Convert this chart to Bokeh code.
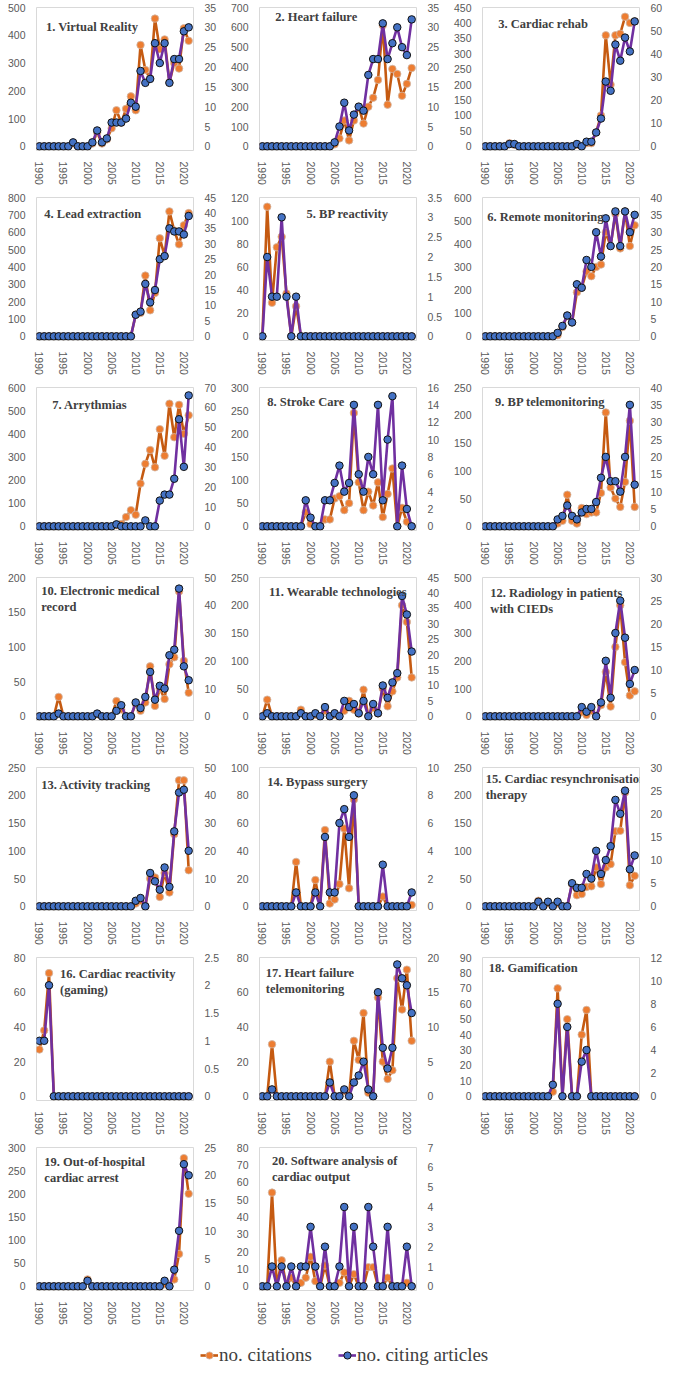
import math
from bokeh.plotting import figure
from bokeh.models import Range1d, LinearAxis, FixedTicker, Label, Legend, LegendItem, ColumnDataSource
from bokeh.layouts import gridplot, column
from bokeh.embed import file_html
from bokeh.resources import INLINE

years = list(range(1990, 2022))
x_ticks = [1990, 1995, 2000, 2005, 2010, 2015, 2020]

titles = [
    "1. Virtual Reality", "2. Heart failure", "3. Cardiac rehab",
    "4. Lead extraction", "5. BP reactivity", "6. Remote monitoring",
    "7. Arrythmias", "8. Stroke Care", "9. BP telemonitoring",
    "10. Electronic medical\nrecord", "11. Wearable technologies", "12. Radiology in patients\nwith CIEDs",
    "13. Activity tracking", "14. Bypass surgery", "15. Cardiac resynchronisation\ntherapy",
    "16. Cardiac reactivity\n(gaming)", "17. Heart failure\ntelemonitoring", "18. Gamification",
    "19. Out-of-hospital\ncardiac arrest", "20. Software analysis of\ncardiac output",
]

# left axis (no. citations) max / step, right axis (no. citing articles) max / step
left_max = [500, 700, 450, 800, 120, 600, 600, 300, 250, 200, 250, 500, 250, 100, 250, 80, 80, 90, 300, 80]
left_step = [100, 100, 50, 100, 20, 100, 100, 50, 50, 50, 50, 100, 50, 20, 50, 20, 20, 10, 50, 10]
right_max = [35, 35, 60, 45, 3.5, 40, 70, 16, 40, 50, 45, 30, 50, 10, 30, 2.5, 20, 12, 25, 7]
right_step = [5, 5, 10, 5, 0.5, 5, 10, 2, 5, 10, 5, 5, 10, 2, 5, 0.5, 5, 2, 5, 1]

Z7 = [0] * 7
citations = [
    # 1 Virtual Reality
    Z7 + [10, 0, 0, 0, 10, 50, 10, 25, 65, 130, 85, 135, 180, 130, 365, 275, 245, 460, 350, 385, 230, 300, 280, 425, 380],
    # 2 Heart failure
    [0] * 15 + [10, 40, 130, 30, 130, 200, 115, 200, 245, 335, 610, 210, 390, 365, 255, 315, 395],
    # 3 Cardiac rehab
    [0] * 5 + [10, 5] + [0] * 12 + [5, 0, 10, 10, 45, 100, 360, 200, 360, 365, 420, 400, 405],
    # 4 Lead extraction
    [0] * 20 + [125, 135, 350, 150, 250, 565, 465, 720, 610, 530, 640, 710],
    # 5 BP reactivity
    [0, 112, 29, 77, 86, 37, 0, 26] + [0] * 24,
    # 6 Remote monitoring
    [0] * 15 + [5, 40, 90, 60, 190, 210, 280, 260, 300, 310, 450, 390, 530, 380, 540, 390, 480],
    # 7 Arrythmias
    [0] * 16 + [5, 10, 40, 70, 50, 185, 270, 330, 255, 420, 305, 530, 385, 525, 400, 480],
    # 8 Stroke Care
    [0] * 9 + [30, 5, 0, 0, 15, 15, 60, 65, 35, 50, 245, 95, 35, 75, 45, 95, 20, 70, 125, 0, 40, 10, 0],
    # 9 BP telemonitoring
    [0] * 15 + [5, 10, 57, 10, 5, 33, 22, 25, 25, 60, 205, 70, 50, 35, 80, 190, 35],
    # 10 Electronic medical record
    [0, 0, 0, 0, 28, 0, 0, 0, 0, 0, 0, 0, 3, 0, 0, 0, 22, 10, 0, 0, 18, 8, 20, 72, 15, 40, 25, 75, 85, 180, 80, 34],
    # 11 Wearable technologies
    [0, 30, 0, 0, 0, 0, 0, 0, 12, 0, 0, 3, 0, 10, 0, 3, 0, 10, 28, 12, 5, 48, 0, 15, 5, 50, 18, 45, 70, 200, 170, 70],
    # 12 Radiology in patients with CIEDs
    [0] * 20 + [15, 5, 20, 0, 40, 160, 35, 250, 400, 195, 75, 90],
    # 13 Activity tracking
    [0] * 20 + [5, 10, 0, 50, 52, 17, 60, 25, 130, 227, 227, 65],
    # 14 Bypass surgery
    Z7 + [32, 0, 0, 0, 19, 0, 55, 2, 5, 16, 56, 13, 77, 0, 0, 0, 0, 0, 7, 0, 0, 0, 0, 0, 1],
    # 15 Cardiac resynchronisation therapy
    [0] * 11 + [10, 0, 5, 0, 5, 0, 0, 40, 20, 22, 35, 36, 70, 40, 70, 76, 135, 136, 205, 38, 55],
    # 16 Cardiac reactivity (gaming)
    [27, 38, 71] + [0] * 29,
    # 17 Heart failure telemonitoring
    [0, 0, 30] + [0] * 11 + [20, 0, 0, 3, 0, 32, 21, 48, 2, 0, 57, 20, 10, 15, 68, 50, 73, 32],
    # 18 Gamification
    [0] * 14 + [3, 70, 0, 50, 0, 0, 40, 56] + [0] * 10,
    # 19 Out-of-hospital cardiac arrest
    [0] * 10 + [15] + [0] * 15 + [5, 0, 15, 70, 277, 200],
    # 20 Software analysis of cardiac output
    [0, 0, 54, 0, 15, 0, 5, 0, 2, 5, 17, 3, 0, 12, 0, 0, 2, 8, 0, 7, 0, 0, 11, 11, 0, 0, 5, 0, 0, 0, 2, 0],
]

citing_articles = [
    Z7 + [1, 0, 0, 0, 1, 4, 1, 2, 6, 6, 6, 7, 11, 10, 19, 16, 17, 26, 21, 26, 16, 22, 22, 29, 30],
    [0] * 15 + [1, 5, 11, 4, 8, 10, 9, 18, 22, 22, 31, 22, 26, 30, 25, 23, 32],
    [0] * 5 + [1, 1] + [0] * 12 + [1, 0, 2, 2, 6, 12, 28, 24, 44, 37, 47, 41, 54],
    [0] * 20 + [7, 8, 17, 11, 15, 25, 26, 35, 34, 34, 33, 39],
    [0, 2, 1, 1, 3, 1, 0, 1] + [0] * 24,
    [0] * 15 + [1, 3, 6, 4, 15, 14, 22, 20, 30, 23, 34, 26, 36, 26, 36, 30, 35],
    [0] * 16 + [1, 0, 0, 0, 0, 0, 3, 0, 0, 13, 16, 16, 24, 54, 30, 66],
    [0] * 9 + [3, 1, 0, 0, 3, 3, 5, 7, 4, 5, 14, 6, 4, 8, 6, 14, 3, 10, 15, 0, 7, 2, 0],
    [0] * 15 + [2, 3, 6, 3, 2, 4, 5, 5, 7, 14, 20, 13, 13, 10, 20, 35, 12],
    [0, 0, 0, 0, 1, 0, 0, 0, 0, 0, 0, 0, 1, 0, 0, 0, 2, 4, 0, 0, 5, 3, 7, 16, 6, 11, 10, 22, 24, 46, 18, 13],
    [0, 1, 0, 0, 0, 0, 0, 0, 1, 0, 0, 1, 0, 3, 0, 1, 0, 5, 3, 4, 1, 5, 0, 4, 1, 10, 6, 11, 14, 39, 33, 21],
    [0] * 20 + [2, 1, 2, 0, 3, 12, 4, 18, 25, 17, 7, 10],
    [0] * 20 + [2, 3, 0, 12, 9, 6, 14, 7, 27, 41, 42, 20],
    Z7 + [1, 0, 0, 0, 1, 0, 5, 1, 1, 6, 7, 5, 8, 0, 0, 0, 0, 0, 3, 0, 0, 0, 0, 0, 1],
    [0] * 11 + [1, 0, 1, 0, 1, 0, 0, 5, 4, 4, 7, 6, 12, 7, 10, 13, 23, 20, 25, 8, 11],
    [1, 1, 2] + [0] * 29,
    [0, 0, 1] + [0] * 11 + [2, 0, 0, 1, 0, 2, 3, 5, 1, 0, 15, 7, 4, 7, 19, 17, 16, 12],
    [0] * 14 + [1, 8, 0, 6, 0, 0, 3, 4] + [0] * 10,
    [0] * 10 + [1] + [0] * 15 + [1, 0, 3, 10, 22, 20],
    [0, 0, 1, 0, 1, 0, 1, 0, 1, 1, 3, 1, 0, 2, 0, 0, 1, 4, 0, 3, 0, 0, 4, 2, 0, 0, 3, 0, 0, 0, 2, 0],
]

# title placement inside the frame (fraction of width from left, fraction of height from top)
title_pos = [
    (0.06, 0.085), (0.10, 0.015), (0.10, 0.065),
    (0.05, 0.065), (0.30, 0.065), (0.03, 0.085),
    (0.10, 0.07), (0.05, 0.055), (0.08, 0.055),
    (0.03, 0.045), (0.06, 0.055), (0.05, 0.06),
    (0.03, 0.075), (0.05, 0.055), (0.02, 0.03),
    (0.15, 0.065), (0.04, 0.06), (0.04, 0.025),
    (0.05, 0.055), (0.08, 0.045),
]

ORANGE_LINE = "#c55a11"
ORANGE_FILL = "#ed7d31"
ORANGE_EDGE = "#d0b8a8"
PURPLE_LINE = "#7030a0"
BLUE_FILL = "#4472c4"
BLUE_EDGE = "#111111"
TICK_COLOR = "#595959"
TICK_FONT = "Liberation Sans"
MARKER = 7.5


def fmt(v):
    return ("%g" % v)


def ticks(mx, step):
    n = int(round(mx / step))
    return [round(k * step, 6) for k in range(n + 1)]


X0, X1 = 1989.4, 2022.0
PAD = 0.03


def make_panel(i):
    lmax, rmax = left_max[i], right_max[i]
    p = figure(width=223, height=190, output_backend="svg", toolbar_location=None,
               x_range=Range1d(X0, X1), y_range=Range1d(-PAD * lmax, lmax),
               min_border_left=36, min_border_right=30, min_border_top=7, min_border_bottom=40)
    p.extra_y_ranges = {"r": Range1d(-PAD * rmax, rmax)}
    p.add_layout(LinearAxis(y_range_name="r"), "right")

    lt = ticks(lmax, left_step[i])
    rt = ticks(rmax, right_step[i])
    p.yaxis[0].ticker = FixedTicker(ticks=lt)
    p.yaxis[0].major_label_overrides = {t: fmt(t) for t in lt}
    p.yaxis[1].ticker = FixedTicker(ticks=rt)
    p.yaxis[1].major_label_overrides = {t: fmt(t) for t in rt}
    p.xaxis.ticker = FixedTicker(ticks=x_ticks)
    p.xaxis.major_label_orientation = -math.pi / 2

    for ax in list(p.xaxis) + list(p.yaxis):
        ax.axis_line_color = None
        ax.major_tick_line_color = None
        ax.minor_tick_line_color = None
        ax.major_label_text_font = TICK_FONT
        ax.major_label_text_font_size = "10.5px"
        ax.major_label_text_color = TICK_COLOR
        ax.major_label_standoff = 5

    p.grid.visible = False
    p.outline_line_color = "#d9d9d9"
    p.outline_line_width = 1

    src = ColumnDataSource(dict(year=years, cit=citations[i], art=citing_articles[i]))
    p.line("year", "cit", source=src, line_color=ORANGE_LINE, line_width=2.6)
    p.scatter("year", "cit", source=src, size=MARKER, fill_color=ORANGE_FILL,
              line_color=ORANGE_EDGE, line_width=0.8)
    p.line("year", "art", source=src, y_range_name="r", line_color=PURPLE_LINE, line_width=2.6)
    p.scatter("year", "art", source=src, y_range_name="r", size=MARKER, fill_color=BLUE_FILL,
              line_color=BLUE_EDGE, line_width=1)

    fx, fy = title_pos[i]
    p.add_layout(Label(x=X0 + fx * (X1 - X0), y=lmax - fy * (lmax * (1 + PAD)),
                       text=titles[i], text_font="Liberation Serif", text_font_style="bold",
                       text_font_size="12.5px", text_color="#404040", text_baseline="top",
                       text_line_height=1.15))
    return p


panels = [make_panel(i) for i in range(len(titles))]
rows = [panels[k:k + 3] for k in range(0, 18, 3)] + [[panels[18], panels[19], None]]
grid = gridplot(rows, toolbar_location=None)

# legend strip (proxy renderers hold no visible data)
lg = figure(width=669, height=36, output_backend="svg", toolbar_location=None,
            x_range=Range1d(0, 1), y_range=Range1d(0, 1), min_border=0)
lg.axis.visible = False
lg.grid.visible = False
lg.outline_line_color = None
nan_src = ColumnDataSource(dict(x=[float("nan")], y=[float("nan")]))
r1 = lg.line("x", "y", source=nan_src, line_color=ORANGE_LINE, line_width=2.6)
r2 = lg.scatter("x", "y", source=nan_src, size=MARKER, fill_color=ORANGE_FILL,
                line_color=ORANGE_EDGE, line_width=0.8)
r3 = lg.line("x", "y", source=nan_src, line_color=PURPLE_LINE, line_width=2.6)
r4 = lg.scatter("x", "y", source=nan_src, size=MARKER, fill_color=BLUE_FILL,
                line_color=BLUE_EDGE, line_width=1)
legend = Legend(items=[LegendItem(label="no. citations", renderers=[r1, r2]),
                       LegendItem(label="no. citing articles", renderers=[r3, r4])],
                orientation="horizontal", location=(200, 0),
                label_text_font="Liberation Serif", label_text_font_size="19px",
                label_text_color="#404040", glyph_width=18, label_standoff=1, spacing=26,
                padding=0, margin=0,
                border_line_color=None, background_fill_alpha=0)
lg.add_layout(legend, "center")

layout = column(grid, lg)
open("out.html", "w").write(file_html(layout, INLINE))
